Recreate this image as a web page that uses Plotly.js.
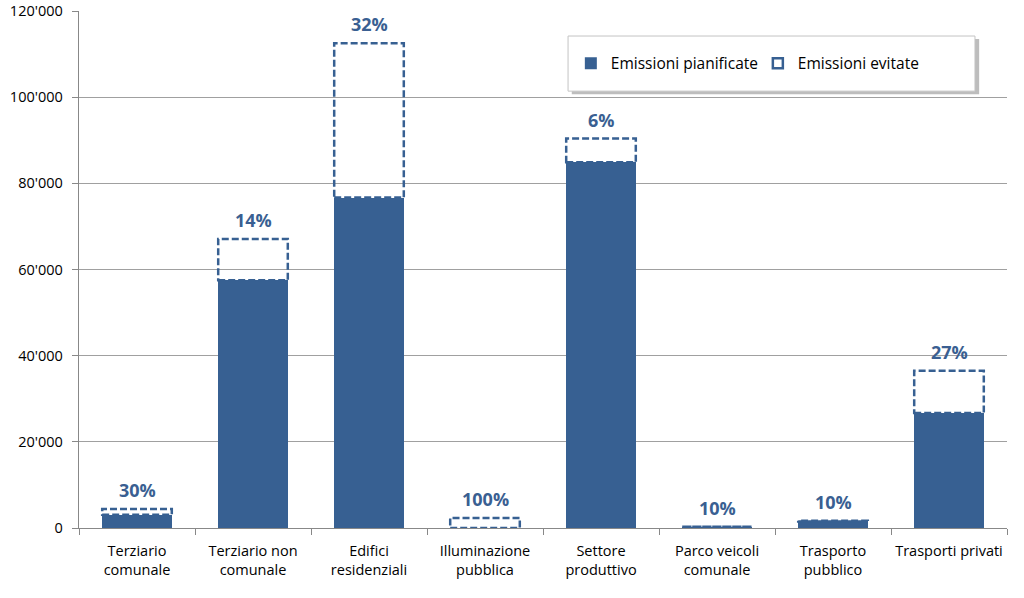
<!DOCTYPE html>
<html><head><meta charset="utf-8">
<script src="https://cdn.plot.ly/plotly-3.0.1.min.js"></script>
<style>html,body{margin:0;padding:0;background:#fff}#chart{width:1024px;height:598px}</style>
</head><body><div id="chart"></div>
<script>
var categories = ["Terziario<br>comunale","Terziario non<br>comunale","Edifici<br>residenziali","Illuminazione<br>pubblica","Settore<br>produttivo","Parco veicoli<br>comunale","Trasporto<br>pubblico","Trasporti privati"];
var planned = [3100, 57500, 76700, 0, 84900, 270, 1530, 26700];
var avoided = [1300, 9600, 35800, 2350, 5500, 30, 170, 9800];
var pctLabels = ["30%","14%","32%","100%","6%","10%","10%","27%"];

var blue = "#376092";
var textBlue = "#3A5F92";
var halfW = 0.3;
var fontFam = "'Open Sans', 'Noto Sans', sans-serif";

var shapes = [];
// legend box with shadow (paper coords)
shapes.push({type:"rect", xref:"paper", yref:"paper", x0:0.531, x1:0.970, y0:0.839, y1:0.946, fillcolor:"#bdbdbd", line:{width:0}, layer:"above"});
shapes.push({type:"rect", xref:"paper", yref:"paper", x0:0.527, x1:0.9655, y0:0.845, y1:0.9516, fillcolor:"#fff", line:{color:"#c4c4c4", width:1}, layer:"above"});
var annotations = [];
for (var i = 0; i < categories.length; i++) {
  var total = planned[i] + avoided[i];
  shapes.push({type:"rect", xref:"x", yref:"y", x0:i-halfW, x1:i+halfW, y0:planned[i], y1:total,
    line:{color:blue, width:2.5, dash:"7px,3px"}, fillcolor:"rgba(0,0,0,0)", layer:"above"});
  annotations.push({x:categories[i], y:total, xref:"x", yref:"y", text:pctLabels[i], showarrow:false,
    yanchor:"bottom", yshift:5, font:{family:fontFam, size:18, color:textBlue, weight:"bold"}});
}

var traces = [
  {type:"bar", name:"Emissioni pianificate", x:categories, y:planned, marker:{color:blue, line:{width:0}}, width:0.6, hoverinfo:"skip"},
  {type:"bar", name:"Emissioni evitate", x:categories, y:avoided, marker:{color:"rgba(255,255,255,0)", line:{width:0}}, width:0.6,
   showlegend:false, hoverinfo:"skip"},
  {type:"scatter", mode:"markers", name:"Emissioni evitate", x:[null], y:[null],
   marker:{symbol:"square-open", size:10, color:blue, line:{width:2.5, color:blue}}}
];

var layout = {
  width:1024, height:598,
  margin:{l:79, r:17, t:11, b:70, autoexpand:false},
  barmode:"stack",
  bargap:0.4,
  separators:".'",
  paper_bgcolor:"#fff", plot_bgcolor:"#fff",
  font:{family:fontFam, size:14, color:"#000"},
  xaxis:{type:"category", tickson:"boundaries", ticks:"outside", ticklen:6, tickcolor:"#888", tickangle:0,
    showline:true, linecolor:"#888", linewidth:1.3, showgrid:false, tickfont:{size:14.5}, automargin:false,
    ticklabelstandoff:9},
  yaxis:{range:[0,120000], tickvals:[0,20000,40000,60000,80000,100000,120000], tickformat:",d",
    ticks:"outside", ticklen:6, tickcolor:"#888", showline:true, linecolor:"#888", linewidth:1.3,
    showgrid:true, gridcolor:"#a0a0a0", gridwidth:1, zeroline:false, tickfont:{size:14.5}, automargin:false,
    ticklabelstandoff:6},
  showlegend:true,
  legend:{orientation:"h", x:0.530, y:0.898, xanchor:"left", yanchor:"middle",
    bgcolor:"rgba(0,0,0,0)", borderwidth:0, font:{size:15.5},
    entrywidth:142, itemwidth:30, traceorder:"normal"},
  shapes:shapes,
  annotations:annotations
};

Plotly.newPlot("chart", traces, layout, {displayModeBar:false, staticPlot:true});
</script></body></html>
